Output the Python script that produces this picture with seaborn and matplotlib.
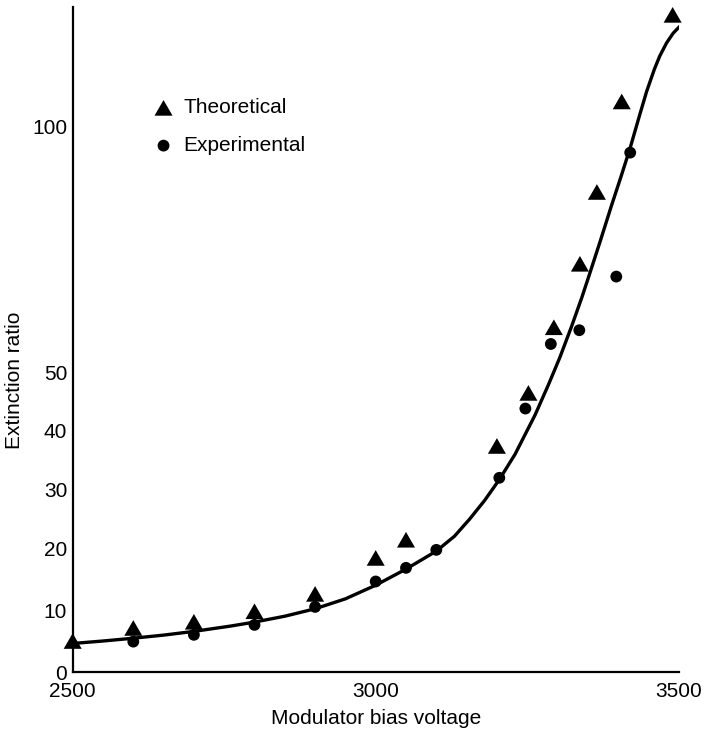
import numpy as np
import pandas as pd
import matplotlib
matplotlib.use("Agg")
import matplotlib.pyplot as plt
from matplotlib.path import Path
import seaborn as sns

# ---- data ----
theo_x = [2500, 2600, 2700, 2800, 2900, 3000, 3050, 3200, 3252, 3294, 3337, 3365, 3406, 3490]
theo_y = [5.0, 7.1, 8.1, 9.8, 12.6, 18.4, 21.4, 37.3, 46.4, 59.1, 72.0, 86.6, 105.0, 122.6]

exp_x = [2600, 2700, 2800, 2900, 3000, 3050, 3100, 3204, 3247, 3289, 3336, 3397, 3420]
exp_y = [4.9, 6.0, 7.6, 10.5, 14.6, 16.8, 19.7, 31.9, 43.7, 55.7, 58.5, 69.4, 94.6]

curve_x = [2500, 2550, 2600, 2650, 2700, 2760, 2800, 2850, 2900, 2950, 3000, 3050,
           3100, 3130, 3155, 3180, 3204, 3230, 3263, 3285, 3304, 3323, 3340, 3351,
           3370, 3389, 3405, 3420, 3435, 3447, 3460, 3469, 3480, 3491, 3502]
curve_y = [4.6, 5.0, 5.45, 5.95, 6.55, 7.4, 8.05, 9.0, 10.2, 11.8, 14.0, 16.6,
           19.5, 22.0, 24.9, 28.1, 31.6, 35.9, 42.6, 47.8, 53.0, 59.2, 65.1, 69.2,
           76.4, 83.8, 89.8, 95.6, 102.0, 107.0, 111.6, 114.3, 116.9, 118.9, 120.3]

y_ticks = [0, 10, 20, 30, 40, 50, 100]
x_ticks = list(range(2500, 3600, 100))
x_labels = ["2500", "", "", "", "", "3000", "", "", "", "", "3500"]

# ---- the hand-drawn (non-uniform) y scale of the original figure ----
scale_vals = np.array([-100.0, 0, 10, 20, 30, 40, 50, 100, 300])
scale_pos = np.array([-620.0, 0, 62, 124, 183, 242, 300, 546, 1530])

def fwd(v):
    return np.interp(v, scale_vals, scale_pos)

def inv(p):
    return np.interp(p, scale_pos, scale_vals)

sns.set_theme(style="white")
plt.rcParams["font.family"] = ["Liberation Sans", "DejaVu Sans"]
plt.rcParams["text.color"] = "black"
plt.rcParams["axes.labelcolor"] = "black"
plt.rcParams["xtick.color"] = "black"
plt.rcParams["ytick.color"] = "black"
plt.rcParams["xtick.direction"] = "in"
plt.rcParams["ytick.direction"] = "in"

FS = 15

fig = plt.figure(figsize=(7.06, 7.35), dpi=100)
ax = fig.add_axes([72.7 / 706, 63 / 735, 606 / 706, 665 / 735])

tri = Path([(-1, -0.866), (1, -0.866), (0, 0.866), (-1, -0.866)],
           [Path.MOVETO, Path.LINETO, Path.LINETO, Path.CLOSEPOLY])

sns.lineplot(x=curve_x, y=curve_y, ax=ax, color="black", lw=2.4, sort=True,
             estimator=None, zorder=2)
sns.scatterplot(x=theo_x, y=theo_y, ax=ax, marker=tri, s=13 ** 2, color="black",
                edgecolor="none", linewidth=0, zorder=3, label="Theoretical",
                clip_on=False)
sns.scatterplot(x=exp_x, y=exp_y, ax=ax, marker="o", s=8.5 ** 2, color="black",
                edgecolor="none", linewidth=0, zorder=3, label="Experimental",
                clip_on=False)

ax.set_yscale("function", functions=(fwd, inv))
ax.set_xlim(2500, 3500)
ax.set_ylim(0, 124.2)

ax.set_yticks(y_ticks)
ax.set_yticklabels([str(v) for v in y_ticks])
ax.yaxis.set_minor_locator(matplotlib.ticker.NullLocator())
ax.set_xticks(x_ticks)
ax.set_xticklabels(x_labels)

ax.tick_params(axis="both", which="major", direction="in", length=9, width=1.3,
               color="black", labelsize=FS, labelcolor="black")
ax.tick_params(axis="x", pad=7)
ax.tick_params(axis="y", pad=4)

for side in ["top", "right"]:
    ax.spines[side].set_visible(False)
for side in ["left", "bottom"]:
    ax.spines[side].set_color("black")
    ax.spines[side].set_linewidth(1.6)

ax.set_xlabel("Modulator bias voltage", fontsize=FS, color="black", labelpad=6)
ax.set_ylabel("Extinction ratio", fontsize=FS, color="black")
ax.yaxis.set_label_coords((24 - 72.7) / 606, (672 - 380) / 665)

leg = ax.legend(loc="upper left", bbox_to_anchor=(70 / 606, (672 - 90) / 665),
                frameon=False, fontsize=FS, handletextpad=0.35, labelspacing=0.9,
                borderaxespad=0, handlelength=1.2)
for t in leg.get_texts():
    t.set_color("black")

fig.savefig("out.png", dpi=100, facecolor="white")
